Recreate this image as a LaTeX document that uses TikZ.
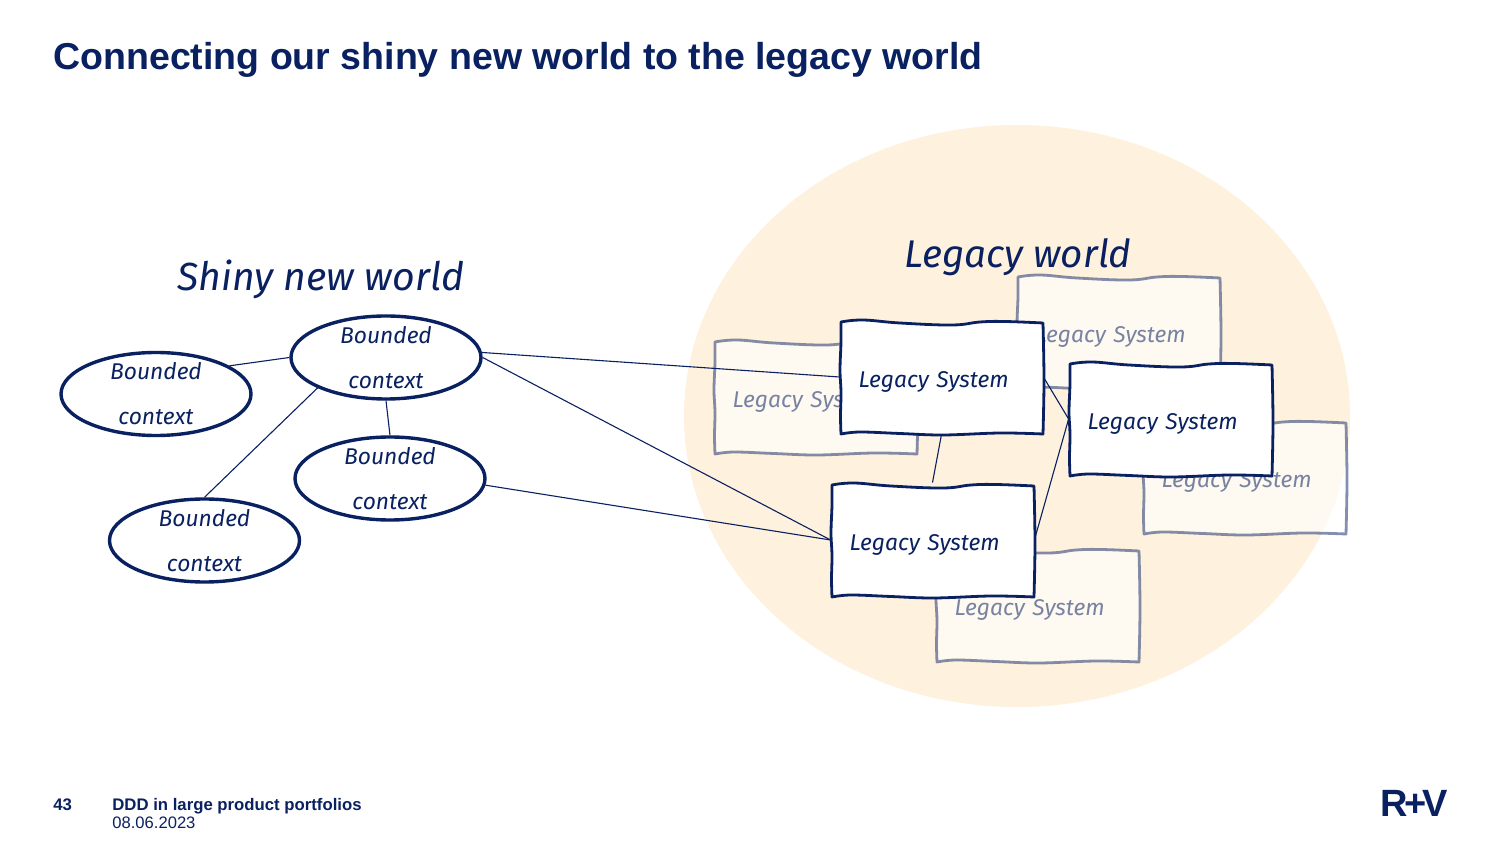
\documentclass[tikz,border=0pt]{standalone}
\usepackage{fontspec}
\usetikzlibrary{shapes.geometric}
\setmainfont{Liberation Sans}
\newfontfamily\handfont{Fira Sans Italic}
\definecolor{navy}{HTML}{0A2161}
\definecolor{cream}{HTML}{FEF1DD}
\newcommand{\pxu}{*0.5pt}
\tikzset{
  handtxt/.style={text=navy,font=\handfont\fontsize{11.4pt}{22.5pt}\selectfont},
  ctxlabel/.style={inner sep=0pt,align=center,handtxt},
  ctx/.style={ellipse,draw=navy,line width=1.7pt,fill=white,minimum width=190\pxu,minimum height=83\pxu,inner sep=0pt},
  wire/.style={draw=navy,line width=0.55pt},
  boxline/.style={draw=navy,line width=1.4pt,line join=round,fill=white},
  fadedbox/.style={draw opacity=.5,fill opacity=.6},
  boxlabel/.style={minimum width=203\pxu,minimum height=114\pxu,inner sep=0pt,text width=166\pxu,align=left,handtxt},
  sysanchor/.style={minimum width=203\pxu,minimum height=114\pxu,inner sep=0pt},
  slidetxt/.style={anchor=base west,inner sep=0pt,text=navy}
}
\newcommand{\boxpath}[1]{%
  \path[boxline,#1] plot[smooth,tension=.7] coordinates {(1,2)(23,0)(60,3)(112,5)(140,2)(165,1.5)(203,3)}
    -- plot[smooth,tension=.6] coordinates {(203,3)(204,60)(203,114)}
    -- plot[smooth,tension=.6] coordinates {(203,114)(160,113)(103,115)(60,113.5)(20,112)(1,114)}
    -- plot[smooth,tension=.6] coordinates {(1,114)(0.5,96)(1,72)(0,50)(1,22)(1,2)} -- cycle;}
\begin{document}
\begin{tikzpicture}[x=0.5pt,y=-0.5pt]
\useasboundingbox (0,0) rectangle (1500,844);
\fill[white] (0,0) rectangle (1500,844);
% legacy world disc
\fill[cream] (1017,416) ellipse [x radius=333,y radius=291];
% faded systems
\foreach \nm/\xx/\yy in {fa/714/340,fb/1017/275,fc/1143/420,fd/936/548}{
  \begin{scope}[shift={(\xx,\yy)}]
    \boxpath{fadedbox}
    \node[boxlabel,text opacity=.55] (\nm) at (101.5,62) {Legacy System};
  \end{scope}
}
% context nodes
\node[ctx,label={[ctxlabel]center:Bounded\\context}] (e1) at (386,357.5) {};
\node[ctx,label={[ctxlabel]center:Bounded\\context}] (e2) at (156,394) {};
\node[ctx,label={[ctxlabel]center:Bounded\\context}] (e3) at (390,478.5) {};
\node[ctx,label={[ctxlabel]center:Bounded\\context}] (e4) at (204.5,540.5) {};
% solid system anchors
\node[sysanchor] (s1) at (941.5,377) {};
\node[sysanchor] (s2) at (1170.5,419) {};
\node[sysanchor] (s3) at (932.5,540) {};
% connectors
\draw[wire] (e2.21) -- (e1.west);
\draw[wire] (e1.south) -- (e3.north);
\draw[wire] (e1.204) -- (e4.north);
\draw[wire] (e1.3) -- (s1.west);
\draw[wire] (e1.east) -- (s3.west);
\draw[wire] (e3.-4) -- (s3.west);
\draw[wire] (s1.south) -- (s3.north);
\draw[wire] (s1.east) -- (s2.west);
\draw[wire] (s2.west) -- (s3.east);
% solid systems
\foreach \nm/\xx/\yy in {t1/840/320,t2/1069/362,t3/831/483}{
  \begin{scope}[shift={(\xx,\yy)}]
    \boxpath{}
    \node[boxlabel] (\nm) at (101.5,62) {Legacy System};
  \end{scope}
}
% headings
\node[slidetxt,font=\bfseries\fontsize{18.75pt}{22pt}\selectfont] (title) at (53,70) {Connecting our shiny new world to the legacy world};
\node[text=navy,font=\handfont\fontsize{19.6pt}{22pt}\selectfont] (shiny) at (321,279) {Shiny new world};
\node[text=navy,font=\handfont\fontsize{19.3pt}{22pt}\selectfont] (legacy) at (1018,257) {Legacy world};
% footer
\node[slidetxt,font=\bfseries\fontsize{8.37pt}{10pt}\selectfont] (page) at (53,810.5) {43};
\node[slidetxt,font=\bfseries\fontsize{8.37pt}{10pt}\selectfont] (deck) at (112,810.5) {DDD in large product portfolios};
\node[slidetxt,font=\fontsize{8.3pt}{10pt}\selectfont] (date) at (112,828.5) {08.06.2023};
\node[slidetxt,font=\bfseries\fontsize{19pt}{22pt}\selectfont] (logo) at (1380,816) {R\kern-1.5pt+\kern-2.5pt V};
\end{tikzpicture}
\end{document}
